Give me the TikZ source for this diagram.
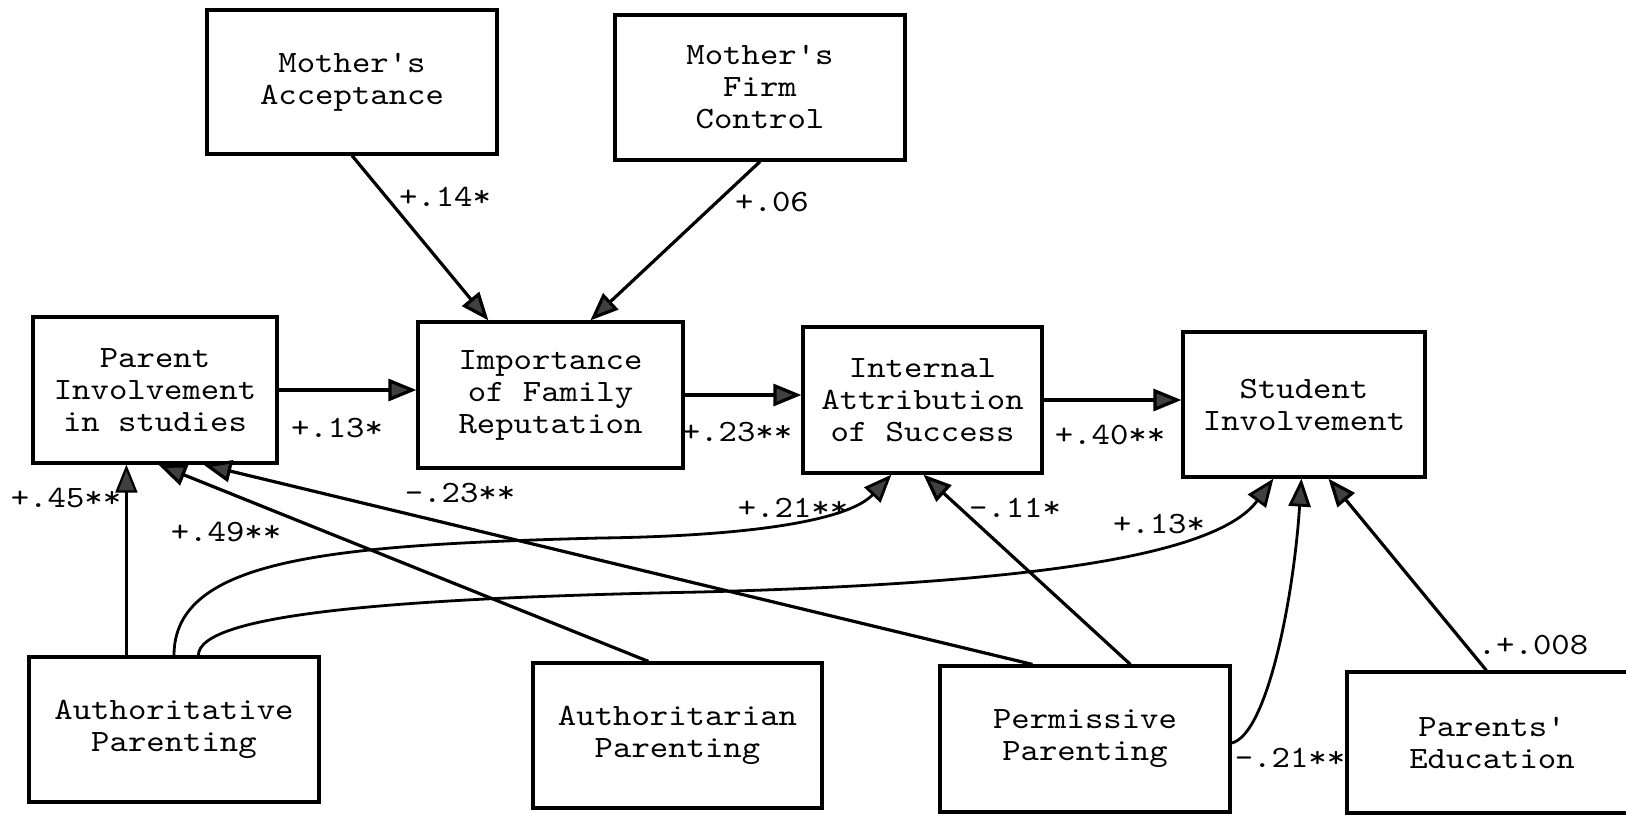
\documentclass[tikz,border=0pt]{standalone}
\usepackage{fontspec}
\setmonofont{lmmono10-regular}[Extension=.otf, FakeStretch=1.13]
\usetikzlibrary{arrows.meta,calc}
\begin{document}
\begin{tikzpicture}[x=0.5pt,y=-0.5pt,
  txt/.style={font=\ttfamily\fontsize{15.5pt}{16pt}\selectfont},
  box/.style={txt, draw, line width=1.6pt, align=center, inner sep=0pt},
  lab/.style={txt, inner sep=0pt},
  tip/.style={-{Triangle[length=14pt,width=11pt,fill=black!75]}},
  arr/.style={tip, line width=1.6pt},
  arrthin/.style={tip, line width=1.1pt},
  arrc/.style={tip, line width=1.4pt}
]
\fill[white] (0,0) rectangle (1626,816);
\useasboundingbox (0,0) rectangle (1626,816);

% boxes
\node[box, minimum width=145pt, minimum height=72pt]   (ma)  at (352,82)     {Mother's\\Acceptance};
\node[box, minimum width=145pt, minimum height=72.5pt] (mf)  at (760,87.5)   {Mother's\\Firm\\Control};
\node[box, minimum width=122pt, minimum height=73pt]   (par) at (155,390)    {Parent\\Involvement\\in studies};
\node[box, minimum width=132.5pt, minimum height=73pt] (imp) at (550.5,395)  {Importance\\of Family\\Reputation};
\node[box, minimum width=119.5pt, minimum height=73pt] (int) at (922.5,400)  {Internal\\Attribution\\of Success};
\node[box, minimum width=121pt, minimum height=72.5pt] (stu) at (1304,404.5) {Student\\Involvement};
\node[box, minimum width=145pt, minimum height=72.5pt] (atv) at (174,729.5)  {Authoritative\\Parenting};
\node[box, minimum width=144.5pt, minimum height=72.5pt] (atn) at (677.5,735.5) {Authoritarian\\Parenting};
\node[box, minimum width=145pt, minimum height=73pt]   (per) at (1085,739)   {Permissive\\Parenting};
\node[box, minimum width=145pt, minimum height=70.5pt] (edu) at (1492,742.5) {Parents'\\Education};

% labels
\node[lab] (l14)  at (445,197)  {+.14*};
\node[lab] (l06)  at (772,202)  {+.06};
\node[lab] (l13a) at (337,428)  {+.13*};
\node[lab] (l23a) at (737,432)  {+.23**};
\node[lab] (l40)  at (1110,435) {+.40**};
\node[lab] (l45)  at (66,498)   {+.45**};
\node[lab] (l49)  at (226,532)  {+.49**};
\node[lab] (l23b) at (460,493)  {-.23**};
\node[lab] (l21a) at (793,508)  {+.21**};
\node[lab] (l11)  at (1015,508) {-.11*};
\node[lab] (l13b) at (1159,524) {+.13*};
\node[lab] (l21b) at (1290,758) {-.21**};
\node[lab] (l008) at (1533,645) {.+.008};

% connectors
\draw[arr] (ma.south) -- ($(imp.north west)+(72,0)$);
\draw[arr] (mf.south) -- ($(imp.north west)+(174,0)$);
\draw[arr] (par.east) -- (par.east -| imp.west);
\draw[arr] (imp.east) -- (imp.east -| int.west);
\draw[arr] (int.east) -- (int.east -| stu.west);
\coordinate (a45) at ($(atv.north west)+(99,0)$);
\draw[arrthin] (a45) -- (a45 |- par.south);
\draw[arr] ($(atn.north west)+(117,0)$) -- ($(par.south west)+(127,0)$);
\draw[arr] ($(per.north west)+(94,0)$) -- ($(par.south west)+(172,0)$);
\draw[arr] ($(per.north west)+(192,0)$) -- ($(int.south west)+(122,0)$);
\coordinate (m21) at (600,538);
\draw[arrc] (atv.north) .. controls +(0,-97) and +(-270,7) .. (m21)
  .. controls +(150,-2) and +(-43,46) .. ($(int.south west)+(90,0)$);
\coordinate (m13) at (700,592);
\draw[arrc] ($(atv.north west)+(171,0)$) .. controls +(0,-42) and +(-300,6) .. (m13)
  .. controls +(300,-8) and +(-60,82) .. ($(stu.south west)+(92,0)$);
\draw[arrc] ([yshift=-2pt]per.east) .. controls +(35,-8) and +(-8,122) .. ($(stu.south west)+(120,0)$);
\draw[arr] ($(edu.north west)+(141,0)$) -- ($(stu.south west)+(147,0)$);
\end{tikzpicture}
\end{document}
